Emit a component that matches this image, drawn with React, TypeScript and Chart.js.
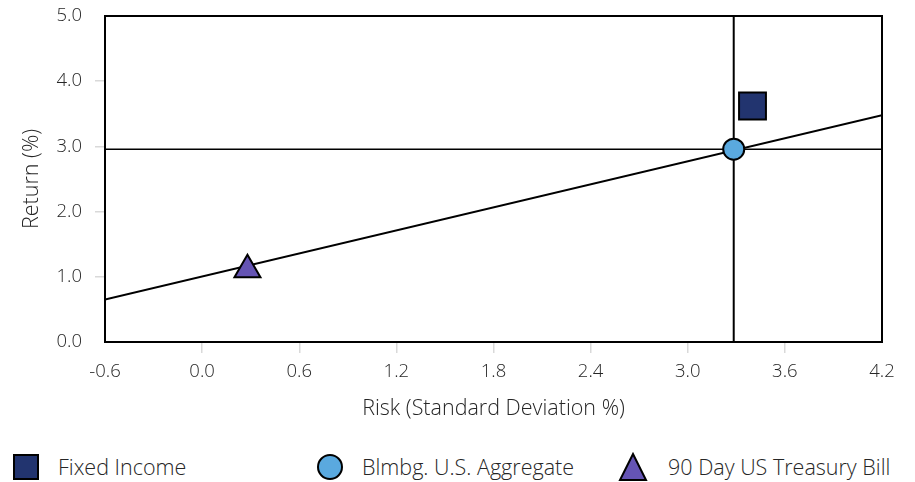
import React, { useEffect, useRef } from "react";
import { Chart, registerables } from "chart.js";

Chart.register(...registerables);

// ---- data ----
const seriesNames = ["Fixed Income", "Blmbg. U.S. Aggregate", "90 Day US Treasury Bill"];
const riskValues = [3.4, 3.284, 0.28];
const returnValues = [3.62, 2.957, 1.11];
const pointStyles = ["rect", "circle", "triangle"];
const pointColors = ["#22346f", "#5aa9df", "#6554b4"];
const pointRadii = [19, 10.5, 15];

const cmlRisk = [-0.6, 4.2];
const cmlReturn = [0.65, 3.48];

const xTicks = [-0.6, 0.0, 0.6, 1.2, 1.8, 2.4, 3.0, 3.6, 4.2];
const yTicks = [0.0, 1.0, 2.0, 3.0, 4.0, 5.0];

const xTitle = "Risk (Standard Deviation %)";
const yTitle = "Return (%)";

const FONT = "'Open Sans', 'Noto Sans', sans-serif";
const TEXT = "#262626";

const frame = {
  id: "frame",
  afterDatasetsDraw(chart: any) {
    const { ctx, chartArea: a } = chart;
    ctx.save();
    ctx.strokeStyle = "#000";
    ctx.lineWidth = 2;
    ctx.strokeRect(a.left, a.top, a.right - a.left, a.bottom - a.top);
    ctx.restore();
  },
};

function Marker({ style, color }: { style: string; color: string }) {
  if (style === "rect")
    return (
      <svg width="28" height="28">
        <rect x="2" y="2" width="24" height="24" fill={color} stroke="#000" strokeWidth="2" />
      </svg>
    );
  if (style === "circle")
    return (
      <svg width="28" height="28">
        <circle cx="14" cy="14" r="12" fill={color} stroke="#000" strokeWidth="2" />
      </svg>
    );
  return (
    <svg width="30" height="30">
      <polygon points="15,2 28,28 2,28" fill={color} stroke="#000" strokeWidth="2" />
    </svg>
  );
}

export default function App() {
  const ref = useRef<HTMLCanvasElement>(null);

  useEffect(() => {
    if (!ref.current) return;
    const xMin = xTicks[0];
    const xMax = xTicks[xTicks.length - 1];
    const yMin = yTicks[0];
    const yMax = yTicks[yTicks.length - 1];
    const pointSets = seriesNames.map((name, i) => ({
      type: "scatter" as const,
      label: name,
      data: [{ x: riskValues[i], y: returnValues[i] }],
      pointStyle: pointStyles[i],
      pointRadius: pointRadii[i],
      pointHoverRadius: pointRadii[i],
      backgroundColor: pointColors[i],
      borderColor: "#000",
      pointBorderWidth: 2,
      order: 0,
    }));
    const lineCommon = {
      type: "line" as const,
      borderColor: "#000",
      pointRadius: 0,
      fill: false,
      tension: 0,
      order: 5,
    };
    const chart = new Chart(ref.current, {
      type: "scatter",
      data: {
        datasets: [
          ...pointSets,
          {
            ...lineCommon,
            label: "CML",
            data: cmlRisk.map((x, i) => ({ x, y: cmlReturn[i] })),
            borderWidth: 2,
          },
          {
            ...lineCommon,
            label: "vertical",
            data: [
              { x: riskValues[1], y: yMin },
              { x: riskValues[1], y: yMax },
            ],
            borderWidth: 2,
          },
          {
            ...lineCommon,
            label: "horizontal",
            data: [
              { x: xMin, y: returnValues[1] },
              { x: xMax, y: returnValues[1] },
            ],
            borderWidth: 1.5,
          },
        ] as any,
      },
      options: {
        animation: false,
        responsive: false,
        layout: { autoPadding: false, padding: { top: 16, right: 33, left: 0, bottom: 0 } },
        plugins: { legend: { display: false }, tooltip: { enabled: false } },
        scales: {
          x: {
            type: "linear",
            min: xMin,
            max: xMax,
            afterBuildTicks: (s: any) => {
              s.ticks = xTicks.map((v) => ({ value: v }));
            },
            afterFit: (s: any) => {
              s.height = 88;
              s.paddingLeft = 0;
              s.paddingRight = 0;
            },
            border: { display: false },
            grid: {
              drawOnChartArea: false,
              drawTicks: true,
              tickLength: 11,
              lineWidth: 1.5,
              color: (c: any) =>
                c.index === 0 || c.index === xTicks.length - 1 ? "rgba(0,0,0,0)" : "#d9d9d9",
            },
            ticks: {
              padding: 8,
              color: TEXT,
              font: { family: FONT, size: 18.5, weight: 300 },
              maxRotation: 0,
              callback: (v: any) => Number(v).toFixed(1),
            },
            title: {
              display: true,
              text: xTitle,
              color: TEXT,
              font: { family: FONT, size: 21.5, weight: 300 },
              padding: { top: 0, bottom: 8 },
            },
          },
          y: {
            type: "linear",
            min: yMin,
            max: yMax,
            afterBuildTicks: (s: any) => {
              s.ticks = yTicks.map((v) => ({ value: v }));
            },
            afterFit: (s: any) => {
              s.width = 105;
              s.paddingTop = 0;
              s.paddingBottom = 0;
            },
            border: { display: false },
            grid: {
              drawOnChartArea: false,
              drawTicks: true,
              tickLength: 10,
              lineWidth: 1.5,
              color: (c: any) =>
                c.index === 0 || c.index === yTicks.length - 1 ? "rgba(0,0,0,0)" : "#d9d9d9",
            },
            ticks: {
              padding: 13,
              color: TEXT,
              font: { family: FONT, size: 18.5, weight: 300 },
              callback: (v: any) => Number(v).toFixed(1),
            },
            title: {
              display: true,
              text: yTitle,
              color: TEXT,
              font: { family: FONT, size: 21.5, weight: 300 },
              padding: { top: 19, bottom: 0 },
            },
          },
        },
      },
      plugins: [frame],
    });
    return () => chart.destroy();
  }, []);

  const legendX = [12, 316, 618];
  const textX = [58, 362, 668];

  return (
    <div style={{ position: "fixed", left: 0, top: 0, width: 915, height: 482, background: "#fff" }}>
      <canvas ref={ref} width={915} height={430} style={{ position: "absolute", left: 0, top: 0 }} />
      {seriesNames.map((name, i) => (
        <React.Fragment key={name}>
          <div style={{ position: "absolute", left: legendX[i], top: i === 2 ? 452 : 453, lineHeight: 0 }}>
            <Marker style={pointStyles[i]} color={pointColors[i]} />
          </div>
          <div
            style={{
              position: "absolute",
              left: textX[i],
              top: 453,
              fontFamily: FONT,
              fontSize: 21.5,
              fontWeight: 300,
              color: TEXT,
              lineHeight: "28px",
              whiteSpace: "nowrap",
            }}
          >
            {name}
          </div>
        </React.Fragment>
      ))}
    </div>
  );
}
